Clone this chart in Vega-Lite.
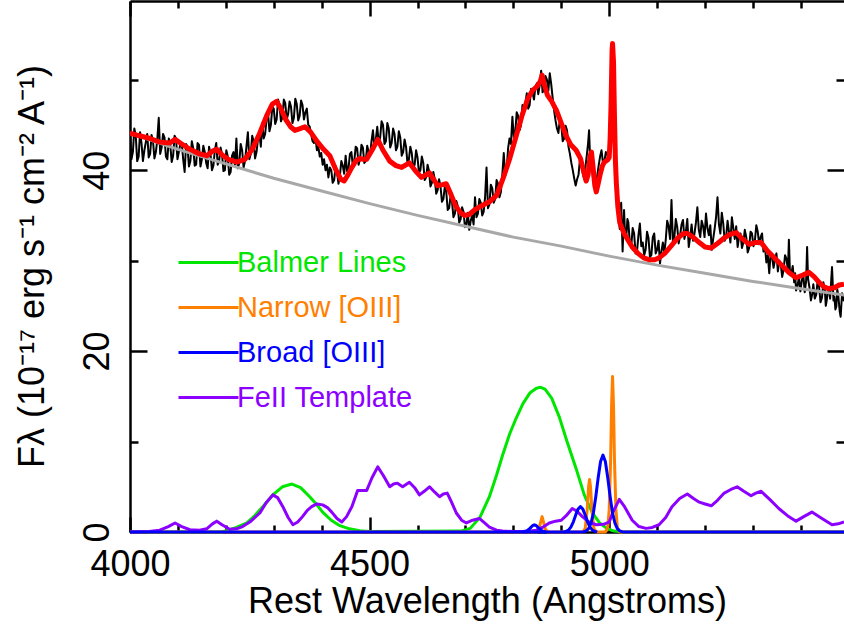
{
  "$schema": "https://vega.github.io/schema/vega-lite/v6.json",
  "width": 714,
  "height": 531,
  "autosize": {"type": "none"},
  "padding": {"left": 130, "top": 1, "right": 0, "bottom": 95},
  "config": {"view": {"stroke": null}, "font": "Liberation Sans"},
  "datasets": {
    "obs": [
      {"x":4000,"y":44.5},{"x":4003,"y":41.2},{"x":4006,"y":42.0},{"x":4009,"y":44.6},{"x":4012,"y":43.8},{"x":4015,"y":41.0},{"x":4018,"y":41.5},{"x":4021,"y":44.2},{"x":4024,"y":43.0},{"x":4027,"y":41.0},{"x":4030,"y":42.2},{"x":4033,"y":43.1},{"x":4036,"y":44.0},{"x":4039,"y":41.4},{"x":4042,"y":41.8},{"x":4045,"y":43.9},{"x":4048,"y":43.2},{"x":4051,"y":41.3},{"x":4054,"y":42.0},{"x":4057,"y":43.4},{"x":4060,"y":45.8},{"x":4063,"y":41.8},{"x":4066,"y":42.5},{"x":4069,"y":44.0},{"x":4072,"y":43.6},{"x":4075,"y":41.5},{"x":4078,"y":41.2},{"x":4081,"y":43.5},{"x":4084,"y":42.8},{"x":4087,"y":40.9},{"x":4090,"y":41.6},{"x":4093,"y":43.8},{"x":4096,"y":43.5},{"x":4099,"y":41.2},{"x":4102,"y":42.0},{"x":4105,"y":42.9},{"x":4108,"y":43.0},{"x":4111,"y":41.2},{"x":4114,"y":39.8},{"x":4117,"y":42.9},{"x":4120,"y":42.6},{"x":4123,"y":40.4},{"x":4126,"y":41.0},{"x":4129,"y":43.2},{"x":4132,"y":42.4},{"x":4135,"y":40.5},{"x":4138,"y":40.6},{"x":4141,"y":43.0},{"x":4144,"y":42.8},{"x":4147,"y":40.4},{"x":4150,"y":41.2},{"x":4153,"y":42.7},{"x":4156,"y":42.0},{"x":4159,"y":40.8},{"x":4162,"y":40.2},{"x":4165,"y":42.6},{"x":4168,"y":41.8},{"x":4171,"y":40.0},{"x":4174,"y":40.5},{"x":4177,"y":42.2},{"x":4180,"y":43.0},{"x":4183,"y":40.6},{"x":4186,"y":41.0},{"x":4189,"y":42.5},{"x":4192,"y":41.8},{"x":4195,"y":39.9},{"x":4198,"y":40.0},{"x":4201,"y":42.2},{"x":4204,"y":41.5},{"x":4207,"y":39.5},{"x":4210,"y":39.8},{"x":4213,"y":41.6},{"x":4216,"y":42.0},{"x":4219,"y":40.6},{"x":4222,"y":43.5},{"x":4225,"y":40.2},{"x":4228,"y":40.8},{"x":4231,"y":42.9},{"x":4234,"y":42.2},{"x":4237,"y":40.3},{"x":4240,"y":41.0},{"x":4243,"y":42.6},{"x":4246,"y":44.2},{"x":4249,"y":41.2},{"x":4252,"y":41.8},{"x":4255,"y":43.8},{"x":4258,"y":43.2},{"x":4261,"y":41.3},{"x":4264,"y":42.0},{"x":4267,"y":43.4},{"x":4270,"y":44.0},{"x":4273,"y":42.6},{"x":4276,"y":45.2},{"x":4279,"y":43.5},{"x":4282,"y":44.0},{"x":4285,"y":45.6},{"x":4288,"y":46.4},{"x":4291,"y":44.3},{"x":4294,"y":45.0},{"x":4297,"y":47.0},{"x":4300,"y":46.8},{"x":4303,"y":45.1},{"x":4306,"y":45.6},{"x":4309,"y":47.8},{"x":4312,"y":47.2},{"x":4315,"y":45.4},{"x":4318,"y":45.8},{"x":4321,"y":47.8},{"x":4324,"y":47.4},{"x":4327,"y":45.6},{"x":4330,"y":46.2},{"x":4333,"y":47.6},{"x":4336,"y":47.0},{"x":4339,"y":45.2},{"x":4342,"y":45.8},{"x":4345,"y":47.9},{"x":4348,"y":47.3},{"x":4351,"y":45.5},{"x":4354,"y":46.0},{"x":4357,"y":47.7},{"x":4360,"y":47.2},{"x":4363,"y":45.6},{"x":4366,"y":46.4},{"x":4369,"y":46.8},{"x":4372,"y":45.0},{"x":4375,"y":44.8},{"x":4378,"y":44.0},{"x":4381,"y":43.2},{"x":4384,"y":43.0},{"x":4387,"y":43.6},{"x":4390,"y":42.2},{"x":4393,"y":42.6},{"x":4396,"y":41.5},{"x":4399,"y":41.9},{"x":4402,"y":40.6},{"x":4405,"y":41.2},{"x":4408,"y":40.0},{"x":4411,"y":40.6},{"x":4414,"y":39.2},{"x":4417,"y":40.3},{"x":4420,"y":40.0},{"x":4423,"y":38.6},{"x":4426,"y":38.9},{"x":4429,"y":40.4},{"x":4432,"y":39.8},{"x":4435,"y":38.5},{"x":4438,"y":39.4},{"x":4441,"y":41.0},{"x":4444,"y":40.5},{"x":4447,"y":39.6},{"x":4450,"y":41.6},{"x":4453,"y":39.9},{"x":4456,"y":40.2},{"x":4459,"y":41.8},{"x":4462,"y":42.0},{"x":4465,"y":40.5},{"x":4468,"y":41.0},{"x":4471,"y":42.6},{"x":4474,"y":42.4},{"x":4477,"y":40.6},{"x":4480,"y":41.2},{"x":4483,"y":42.8},{"x":4486,"y":42.5},{"x":4489,"y":40.8},{"x":4492,"y":41.0},{"x":4495,"y":42.7},{"x":4498,"y":42.0},{"x":4501,"y":41.6},{"x":4504,"y":43.2},{"x":4507,"y":44.4},{"x":4510,"y":42.5},{"x":4513,"y":43.4},{"x":4516,"y":44.8},{"x":4519,"y":43.0},{"x":4522,"y":43.6},{"x":4525,"y":45.4},{"x":4528,"y":45.0},{"x":4531,"y":42.9},{"x":4534,"y":43.2},{"x":4537,"y":45.2},{"x":4540,"y":44.6},{"x":4543,"y":42.5},{"x":4546,"y":43.0},{"x":4549,"y":44.6},{"x":4552,"y":44.0},{"x":4555,"y":42.2},{"x":4558,"y":42.6},{"x":4561,"y":44.3},{"x":4564,"y":43.6},{"x":4567,"y":41.6},{"x":4570,"y":42.0},{"x":4573,"y":43.4},{"x":4576,"y":42.6},{"x":4579,"y":40.8},{"x":4582,"y":41.2},{"x":4585,"y":42.6},{"x":4588,"y":41.9},{"x":4591,"y":40.2},{"x":4594,"y":40.6},{"x":4597,"y":42.2},{"x":4600,"y":41.4},{"x":4603,"y":39.7},{"x":4606,"y":40.0},{"x":4609,"y":41.5},{"x":4612,"y":40.8},{"x":4615,"y":38.9},{"x":4618,"y":39.2},{"x":4621,"y":40.6},{"x":4624,"y":39.9},{"x":4627,"y":38.2},{"x":4630,"y":38.6},{"x":4633,"y":39.8},{"x":4636,"y":39.0},{"x":4639,"y":37.4},{"x":4642,"y":37.8},{"x":4645,"y":39.0},{"x":4648,"y":38.2},{"x":4651,"y":36.5},{"x":4654,"y":36.8},{"x":4657,"y":38.2},{"x":4660,"y":37.6},{"x":4663,"y":35.6},{"x":4666,"y":35.8},{"x":4669,"y":37.2},{"x":4672,"y":36.5},{"x":4675,"y":34.8},{"x":4678,"y":35.2},{"x":4681,"y":36.6},{"x":4684,"y":36.0},{"x":4687,"y":34.2},{"x":4690,"y":34.6},{"x":4693,"y":35.9},{"x":4696,"y":35.4},{"x":4699,"y":33.7},{"x":4702,"y":34.0},{"x":4705,"y":35.3},{"x":4708,"y":33.4},{"x":4711,"y":34.4},{"x":4714,"y":35.0},{"x":4717,"y":34.0},{"x":4720,"y":37.0},{"x":4723,"y":34.8},{"x":4726,"y":35.2},{"x":4729,"y":36.8},{"x":4732,"y":36.4},{"x":4735,"y":35.0},{"x":4738,"y":35.4},{"x":4741,"y":37.0},{"x":4744,"y":40.3},{"x":4747,"y":35.8},{"x":4750,"y":36.2},{"x":4753,"y":38.4},{"x":4756,"y":38.0},{"x":4759,"y":36.4},{"x":4762,"y":36.8},{"x":4765,"y":38.9},{"x":4768,"y":38.5},{"x":4771,"y":37.0},{"x":4774,"y":37.6},{"x":4777,"y":39.5},{"x":4780,"y":41.9},{"x":4783,"y":39.4},{"x":4786,"y":40.0},{"x":4789,"y":42.4},{"x":4792,"y":43.5},{"x":4795,"y":42.9},{"x":4798,"y":45.9},{"x":4801,"y":43.6},{"x":4804,"y":44.2},{"x":4807,"y":46.4},{"x":4810,"y":46.0},{"x":4813,"y":44.4},{"x":4816,"y":45.0},{"x":4819,"y":47.2},{"x":4822,"y":46.6},{"x":4825,"y":47.4},{"x":4828,"y":48.5},{"x":4831,"y":46.8},{"x":4834,"y":47.2},{"x":4837,"y":49.0},{"x":4840,"y":48.6},{"x":4843,"y":47.8},{"x":4846,"y":49.2},{"x":4849,"y":49.6},{"x":4852,"y":48.4},{"x":4855,"y":49.4},{"x":4858,"y":51.0},{"x":4861,"y":48.6},{"x":4864,"y":49.0},{"x":4867,"y":50.4},{"x":4870,"y":50.0},{"x":4873,"y":48.8},{"x":4876,"y":50.7},{"x":4879,"y":49.5},{"x":4882,"y":48.0},{"x":4885,"y":46.6},{"x":4888,"y":45.5},{"x":4891,"y":44.6},{"x":4894,"y":44.1},{"x":4897,"y":45.6},{"x":4900,"y":45.0},{"x":4903,"y":43.2},{"x":4906,"y":43.5},{"x":4909,"y":44.9},{"x":4912,"y":44.4},{"x":4915,"y":42.6},{"x":4918,"y":41.8},{"x":4921,"y":40.8},{"x":4924,"y":40.0},{"x":4927,"y":39.1},{"x":4930,"y":38.3},{"x":4933,"y":39.0},{"x":4936,"y":39.5},{"x":4939,"y":41.2},{"x":4942,"y":40.8},{"x":4945,"y":39.6},{"x":4948,"y":39.0},{"x":4951,"y":40.6},{"x":4954,"y":42.0},{"x":4956,"y":43.0},{"x":4958,"y":44.4},{"x":4960,"y":41.5},{"x":4962,"y":40.0},{"x":4964,"y":40.6},{"x":4966,"y":39.2},{"x":4969,"y":38.6},{"x":4972,"y":38.0},{"x":4975,"y":39.4},{"x":4978,"y":40.5},{"x":4981,"y":41.5},{"x":4984,"y":42.2},{"x":4987,"y":40.8},{"x":4990,"y":41.0},{"x":4993,"y":42.0},{"x":4996,"y":41.8},{"x":4998,"y":41.0},{"x":5000,"y":42.2},{"x":5003,"y":47.0},{"x":5006,"y":53.8},{"x":5009,"y":51.0},{"x":5012,"y":44.0},{"x":5015,"y":39.0},{"x":5019,"y":35.0},{"x":5022,"y":33.5},{"x":5025,"y":36.4},{"x":5028,"y":31.0},{"x":5031,"y":35.6},{"x":5033,"y":33.0},{"x":5036,"y":32.8},{"x":5038,"y":34.6},{"x":5040,"y":34.2},{"x":5043,"y":32.0},{"x":5046,"y":31.6},{"x":5049,"y":33.6},{"x":5052,"y":33.0},{"x":5055,"y":30.8},{"x":5058,"y":31.0},{"x":5061,"y":32.8},{"x":5064,"y":34.1},{"x":5067,"y":31.6},{"x":5070,"y":32.0},{"x":5073,"y":30.6},{"x":5076,"y":31.2},{"x":5079,"y":33.2},{"x":5082,"y":32.5},{"x":5085,"y":30.4},{"x":5088,"y":30.6},{"x":5091,"y":32.6},{"x":5094,"y":33.0},{"x":5097,"y":30.8},{"x":5100,"y":31.2},{"x":5103,"y":32.2},{"x":5106,"y":29.7},{"x":5109,"y":31.0},{"x":5112,"y":32.0},{"x":5115,"y":30.8},{"x":5118,"y":32.3},{"x":5121,"y":34.4},{"x":5124,"y":33.8},{"x":5127,"y":32.4},{"x":5130,"y":36.7},{"x":5133,"y":32.0},{"x":5136,"y":32.6},{"x":5139,"y":34.6},{"x":5142,"y":33.7},{"x":5145,"y":31.9},{"x":5148,"y":32.8},{"x":5151,"y":34.0},{"x":5154,"y":34.5},{"x":5157,"y":32.4},{"x":5160,"y":33.2},{"x":5163,"y":34.6},{"x":5166,"y":31.5},{"x":5169,"y":32.6},{"x":5172,"y":34.0},{"x":5175,"y":32.2},{"x":5178,"y":33.0},{"x":5181,"y":34.2},{"x":5184,"y":35.9},{"x":5187,"y":33.4},{"x":5190,"y":32.6},{"x":5193,"y":34.4},{"x":5196,"y":33.8},{"x":5199,"y":32.6},{"x":5202,"y":35.2},{"x":5205,"y":33.6},{"x":5208,"y":32.8},{"x":5211,"y":33.9},{"x":5214,"y":31.2},{"x":5217,"y":32.4},{"x":5220,"y":33.5},{"x":5223,"y":34.8},{"x":5226,"y":37.0},{"x":5229,"y":34.0},{"x":5232,"y":33.0},{"x":5235,"y":35.3},{"x":5238,"y":34.1},{"x":5241,"y":32.2},{"x":5244,"y":32.6},{"x":5247,"y":34.4},{"x":5250,"y":33.2},{"x":5253,"y":32.0},{"x":5256,"y":34.8},{"x":5259,"y":33.6},{"x":5262,"y":32.4},{"x":5265,"y":33.8},{"x":5268,"y":31.5},{"x":5271,"y":32.6},{"x":5274,"y":33.0},{"x":5277,"y":31.4},{"x":5280,"y":32.0},{"x":5283,"y":33.4},{"x":5286,"y":32.6},{"x":5289,"y":30.9},{"x":5292,"y":31.4},{"x":5295,"y":33.2},{"x":5298,"y":33.0},{"x":5301,"y":31.6},{"x":5304,"y":32.2},{"x":5307,"y":33.9},{"x":5310,"y":33.2},{"x":5313,"y":31.8},{"x":5316,"y":32.6},{"x":5319,"y":33.0},{"x":5322,"y":31.0},{"x":5325,"y":31.6},{"x":5328,"y":29.8},{"x":5331,"y":30.6},{"x":5334,"y":28.6},{"x":5337,"y":30.8},{"x":5340,"y":30.4},{"x":5343,"y":29.2},{"x":5346,"y":30.1},{"x":5349,"y":30.8},{"x":5352,"y":28.8},{"x":5355,"y":30.0},{"x":5358,"y":29.6},{"x":5361,"y":28.2},{"x":5364,"y":29.0},{"x":5367,"y":30.6},{"x":5370,"y":30.2},{"x":5373,"y":28.9},{"x":5375,"y":32.3},{"x":5377,"y":29.0},{"x":5380,"y":28.5},{"x":5383,"y":29.4},{"x":5386,"y":27.6},{"x":5388,"y":28.6},{"x":5390,"y":26.7},{"x":5393,"y":27.2},{"x":5396,"y":28.2},{"x":5399,"y":26.6},{"x":5402,"y":27.8},{"x":5405,"y":28.5},{"x":5408,"y":26.5},{"x":5411,"y":27.8},{"x":5413,"y":31.5},{"x":5415,"y":28.0},{"x":5418,"y":27.0},{"x":5421,"y":25.6},{"x":5424,"y":26.4},{"x":5426,"y":27.4},{"x":5429,"y":25.8},{"x":5432,"y":26.2},{"x":5435,"y":27.8},{"x":5438,"y":27.1},{"x":5441,"y":25.4},{"x":5444,"y":25.9},{"x":5447,"y":27.6},{"x":5450,"y":26.8},{"x":5452,"y":25.0},{"x":5454,"y":25.6},{"x":5456,"y":26.6},{"x":5458,"y":27.0},{"x":5461,"y":25.8},{"x":5465,"y":29.3},{"x":5468,"y":25.6},{"x":5470,"y":26.0},{"x":5472,"y":24.6},{"x":5474,"y":24.9},{"x":5476,"y":26.8},{"x":5478,"y":26.2},{"x":5481,"y":24.4},{"x":5483,"y":23.8},{"x":5486,"y":26.4},{"x":5490,"y":25.5}
    ],
    "cont": [
      {"x":4000,"y":44.1},{"x":4100,"y":42.3},{"x":4200,"y":40.7},{"x":4300,"y":39.1},{"x":4400,"y":37.7},{"x":4500,"y":36.3},{"x":4600,"y":35.0},{"x":4700,"y":33.8},{"x":4800,"y":32.6},{"x":4900,"y":31.6},{"x":5000,"y":30.5},{"x":5100,"y":29.5},{"x":5200,"y":28.6},{"x":5300,"y":27.7},{"x":5400,"y":26.9},{"x":5490,"y":26.2}
    ],
    "model": [
      {"x":4000,"y":44.1},{"x":4020,"y":43.8},{"x":4042,"y":43.5},{"x":4062,"y":43.1},{"x":4083,"y":43.0},{"x":4094,"y":43.4},{"x":4105,"y":43.0},{"x":4125,"y":42.3},{"x":4145,"y":41.8},{"x":4160,"y":41.6},{"x":4172,"y":42.1},{"x":4181,"y":42.3},{"x":4192,"y":41.7},{"x":4205,"y":41.2},{"x":4223,"y":40.9},{"x":4240,"y":41.2},{"x":4255,"y":42.3},{"x":4270,"y":44.0},{"x":4285,"y":46.0},{"x":4297,"y":47.3},{"x":4306,"y":47.6},{"x":4315,"y":46.8},{"x":4325,"y":45.6},{"x":4335,"y":44.8},{"x":4344,"y":44.4},{"x":4355,"y":44.6},{"x":4365,"y":44.8},{"x":4377,"y":44.2},{"x":4390,"y":43.2},{"x":4404,"y":42.3},{"x":4417,"y":41.6},{"x":4430,"y":40.0},{"x":4440,"y":39.0},{"x":4447,"y":38.8},{"x":4455,"y":39.5},{"x":4463,"y":40.3},{"x":4471,"y":41.0},{"x":4479,"y":41.3},{"x":4487,"y":41.2},{"x":4494,"y":41.2},{"x":4505,"y":42.2},{"x":4517,"y":43.4},{"x":4528,"y":42.2},{"x":4542,"y":41.0},{"x":4555,"y":40.5},{"x":4567,"y":40.3},{"x":4583,"y":40.8},{"x":4596,"y":39.9},{"x":4608,"y":39.2},{"x":4625,"y":39.7},{"x":4636,"y":38.8},{"x":4642,"y":38.3},{"x":4652,"y":38.4},{"x":4660,"y":38.5},{"x":4670,"y":37.3},{"x":4680,"y":36.0},{"x":4690,"y":35.3},{"x":4698,"y":35.0},{"x":4708,"y":35.1},{"x":4719,"y":35.6},{"x":4735,"y":36.1},{"x":4750,"y":36.5},{"x":4765,"y":37.2},{"x":4778,"y":39.0},{"x":4792,"y":41.2},{"x":4806,"y":43.8},{"x":4819,"y":46.2},{"x":4830,"y":47.9},{"x":4840,"y":48.8},{"x":4850,"y":49.3},{"x":4856,"y":49.8},{"x":4860,"y":50.5},{"x":4864,"y":49.6},{"x":4871,"y":48.3},{"x":4880,"y":47.6},{"x":4890,"y":46.6},{"x":4900,"y":45.2},{"x":4910,"y":43.8},{"x":4920,"y":42.8},{"x":4931,"y":42.2},{"x":4940,"y":41.3},{"x":4946,"y":40.0},{"x":4952,"y":38.8},{"x":4956,"y":39.5},{"x":4960,"y":41.5},{"x":4963,"y":42.0},{"x":4966,"y":40.5},{"x":4970,"y":38.3},{"x":4973,"y":37.6},{"x":4977,"y":38.5},{"x":4981,"y":39.5},{"x":4986,"y":40.5},{"x":4990,"y":40.9},{"x":4996,"y":41.1},{"x":5000,"y":41.4},{"x":5002,"y":43.5},{"x":5004,"y":47.5},{"x":5006,"y":53.2},{"x":5007,"y":54.0},{"x":5009,"y":52.0},{"x":5011,"y":46.0},{"x":5013,"y":41.0},{"x":5015,"y":38.5},{"x":5018,"y":36.0},{"x":5022,"y":34.2},{"x":5031,"y":33.0},{"x":5040,"y":32.2},{"x":5048,"y":31.5},{"x":5060,"y":30.8},{"x":5072,"y":30.3},{"x":5083,"y":30.1},{"x":5095,"y":30.1},{"x":5104,"y":30.3},{"x":5116,"y":30.8},{"x":5129,"y":31.6},{"x":5143,"y":32.5},{"x":5155,"y":33.0},{"x":5163,"y":33.0},{"x":5175,"y":32.6},{"x":5188,"y":32.0},{"x":5200,"y":31.5},{"x":5213,"y":31.4},{"x":5226,"y":31.9},{"x":5240,"y":32.5},{"x":5252,"y":32.9},{"x":5265,"y":33.1},{"x":5278,"y":32.4},{"x":5292,"y":31.8},{"x":5304,"y":32.0},{"x":5317,"y":32.0},{"x":5330,"y":31.1},{"x":5345,"y":30.3},{"x":5360,"y":29.5},{"x":5375,"y":28.7},{"x":5390,"y":28.1},{"x":5404,"y":28.4},{"x":5417,"y":28.7},{"x":5428,"y":28.2},{"x":5438,"y":27.6},{"x":5448,"y":27.1},{"x":5458,"y":26.9},{"x":5470,"y":27.0},{"x":5480,"y":27.3},{"x":5490,"y":27.4}
    ],
    "comp": [
      {"s":"Balmer Lines","p":"g","x":4000,"y":0},{"s":"Balmer Lines","p":"g","x":4190,"y":0},{"s":"Balmer Lines","p":"g","x":4202,"y":0.15},{"s":"Balmer Lines","p":"g","x":4222,"y":0.5},{"s":"Balmer Lines","p":"g","x":4244,"y":1.0},{"s":"Balmer Lines","p":"g","x":4260,"y":1.8},{"s":"Balmer Lines","p":"g","x":4277,"y":2.8},{"s":"Balmer Lines","p":"g","x":4298,"y":4.1},{"s":"Balmer Lines","p":"g","x":4318,"y":5.0},{"s":"Balmer Lines","p":"g","x":4338,"y":5.3},{"s":"Balmer Lines","p":"g","x":4356,"y":4.9},{"s":"Balmer Lines","p":"g","x":4375,"y":3.9},{"s":"Balmer Lines","p":"g","x":4390,"y":3.0},{"s":"Balmer Lines","p":"g","x":4402,"y":2.2},{"s":"Balmer Lines","p":"g","x":4420,"y":1.3},{"s":"Balmer Lines","p":"g","x":4438,"y":0.7},{"s":"Balmer Lines","p":"g","x":4458,"y":0.35},{"s":"Balmer Lines","p":"g","x":4479,"y":0.15},{"s":"Balmer Lines","p":"g","x":4500,"y":0.05},{"s":"Balmer Lines","p":"g","x":4690,"y":0.1},{"s":"Balmer Lines","p":"g","x":4710,"y":0.4},{"s":"Balmer Lines","p":"g","x":4730,"y":1.6},{"s":"Balmer Lines","p":"g","x":4750,"y":3.9},{"s":"Balmer Lines","p":"g","x":4765,"y":6.3},{"s":"Balmer Lines","p":"g","x":4777,"y":8.4},{"s":"Balmer Lines","p":"g","x":4792,"y":10.8},{"s":"Balmer Lines","p":"g","x":4806,"y":12.6},{"s":"Balmer Lines","p":"g","x":4820,"y":14.2},{"s":"Balmer Lines","p":"g","x":4835,"y":15.4},{"s":"Balmer Lines","p":"g","x":4848,"y":15.9},{"s":"Balmer Lines","p":"g","x":4857,"y":16.0},{"s":"Balmer Lines","p":"g","x":4866,"y":15.8},{"s":"Balmer Lines","p":"g","x":4880,"y":14.8},{"s":"Balmer Lines","p":"g","x":4896,"y":12.7},{"s":"Balmer Lines","p":"g","x":4912,"y":10.0},{"s":"Balmer Lines","p":"g","x":4931,"y":7.0},{"s":"Balmer Lines","p":"g","x":4948,"y":4.1},{"s":"Balmer Lines","p":"g","x":4965,"y":2.1},{"s":"Balmer Lines","p":"g","x":4980,"y":1.0},{"s":"Balmer Lines","p":"g","x":4995,"y":0.4},{"s":"Balmer Lines","p":"g","x":5010,"y":0.1},{"s":"Balmer Lines","p":"g","x":5030,"y":0},{"s":"Balmer Lines","p":"g","x":5490,"y":0},
      {"s":"Narrow [OIII]","p":"o","x":4000,"y":0},{"s":"Narrow [OIII]","p":"o","x":4848,"y":0},{"s":"Narrow [OIII]","p":"o","x":4853,"y":0.3},{"s":"Narrow [OIII]","p":"o","x":4857,"y":1.1},{"s":"Narrow [OIII]","p":"o","x":4860,"y":1.7},{"s":"Narrow [OIII]","p":"o","x":4863,"y":1.1},{"s":"Narrow [OIII]","p":"o","x":4867,"y":0.3},{"s":"Narrow [OIII]","p":"o","x":4872,"y":0},{"s":"Narrow [OIII]","p":"o","x":4945,"y":0},{"s":"Narrow [OIII]","p":"o","x":4950,"y":0.4},{"s":"Narrow [OIII]","p":"o","x":4954,"y":2.4},{"s":"Narrow [OIII]","p":"o","x":4957,"y":5.0},{"s":"Narrow [OIII]","p":"o","x":4959,"y":5.8},{"s":"Narrow [OIII]","p":"o","x":4961,"y":5.0},{"s":"Narrow [OIII]","p":"o","x":4964,"y":2.4},{"s":"Narrow [OIII]","p":"o","x":4968,"y":0.4},{"s":"Narrow [OIII]","p":"o","x":4973,"y":0},{"s":"Narrow [OIII]","p":"o","x":4992,"y":0},{"s":"Narrow [OIII]","p":"o","x":4997,"y":0.5},{"s":"Narrow [OIII]","p":"o","x":5000,"y":2.5},{"s":"Narrow [OIII]","p":"o","x":5003,"y":8.0},{"s":"Narrow [OIII]","p":"o","x":5005,"y":14.0},{"s":"Narrow [OIII]","p":"o","x":5007,"y":17.2},{"s":"Narrow [OIII]","p":"o","x":5009,"y":14.0},{"s":"Narrow [OIII]","p":"o","x":5011,"y":8.0},{"s":"Narrow [OIII]","p":"o","x":5014,"y":2.5},{"s":"Narrow [OIII]","p":"o","x":5017,"y":0.5},{"s":"Narrow [OIII]","p":"o","x":5022,"y":0},{"s":"Narrow [OIII]","p":"o","x":5490,"y":0},
      {"s":"FeII Template","p":"f","x":4000,"y":0.0},{"s":"FeII Template","p":"f","x":4040,"y":0.05},{"s":"FeII Template","p":"f","x":4062,"y":0.2},{"s":"FeII Template","p":"f","x":4080,"y":0.6},{"s":"FeII Template","p":"f","x":4094,"y":1.0},{"s":"FeII Template","p":"f","x":4108,"y":0.6},{"s":"FeII Template","p":"f","x":4125,"y":0.25},{"s":"FeII Template","p":"f","x":4145,"y":0.2},{"s":"FeII Template","p":"f","x":4160,"y":0.35},{"s":"FeII Template","p":"f","x":4172,"y":0.9},{"s":"FeII Template","p":"f","x":4181,"y":1.2},{"s":"FeII Template","p":"f","x":4192,"y":0.8},{"s":"FeII Template","p":"f","x":4208,"y":0.3},{"s":"FeII Template","p":"f","x":4222,"y":0.35},{"s":"FeII Template","p":"f","x":4235,"y":0.6},{"s":"FeII Template","p":"f","x":4250,"y":1.1},{"s":"FeII Template","p":"f","x":4271,"y":2.1},{"s":"FeII Template","p":"f","x":4285,"y":3.3},{"s":"FeII Template","p":"f","x":4298,"y":4.1},{"s":"FeII Template","p":"f","x":4308,"y":3.8},{"s":"FeII Template","p":"f","x":4319,"y":2.8},{"s":"FeII Template","p":"f","x":4330,"y":1.6},{"s":"FeII Template","p":"f","x":4340,"y":0.8},{"s":"FeII Template","p":"f","x":4350,"y":1.1},{"s":"FeII Template","p":"f","x":4360,"y":1.7},{"s":"FeII Template","p":"f","x":4370,"y":2.4},{"s":"FeII Template","p":"f","x":4379,"y":2.8},{"s":"FeII Template","p":"f","x":4390,"y":3.1},{"s":"FeII Template","p":"f","x":4402,"y":3.0},{"s":"FeII Template","p":"f","x":4412,"y":2.7},{"s":"FeII Template","p":"f","x":4421,"y":2.2},{"s":"FeII Template","p":"f","x":4432,"y":1.5},{"s":"FeII Template","p":"f","x":4442,"y":1.1},{"s":"FeII Template","p":"f","x":4452,"y":1.7},{"s":"FeII Template","p":"f","x":4463,"y":2.8},{"s":"FeII Template","p":"f","x":4475,"y":4.6},{"s":"FeII Template","p":"f","x":4485,"y":4.6},{"s":"FeII Template","p":"f","x":4494,"y":4.6},{"s":"FeII Template","p":"f","x":4505,"y":6.0},{"s":"FeII Template","p":"f","x":4517,"y":7.2},{"s":"FeII Template","p":"f","x":4528,"y":6.3},{"s":"FeII Template","p":"f","x":4542,"y":5.0},{"s":"FeII Template","p":"f","x":4550,"y":5.3},{"s":"FeII Template","p":"f","x":4558,"y":5.4},{"s":"FeII Template","p":"f","x":4569,"y":5.0},{"s":"FeII Template","p":"f","x":4583,"y":5.5},{"s":"FeII Template","p":"f","x":4594,"y":4.9},{"s":"FeII Template","p":"f","x":4604,"y":4.1},{"s":"FeII Template","p":"f","x":4614,"y":4.5},{"s":"FeII Template","p":"f","x":4625,"y":5.0},{"s":"FeII Template","p":"f","x":4636,"y":4.4},{"s":"FeII Template","p":"f","x":4646,"y":3.9},{"s":"FeII Template","p":"f","x":4654,"y":4.2},{"s":"FeII Template","p":"f","x":4662,"y":4.3},{"s":"FeII Template","p":"f","x":4671,"y":3.3},{"s":"FeII Template","p":"f","x":4681,"y":2.1},{"s":"FeII Template","p":"f","x":4692,"y":1.3},{"s":"FeII Template","p":"f","x":4702,"y":1.0},{"s":"FeII Template","p":"f","x":4715,"y":1.3},{"s":"FeII Template","p":"f","x":4729,"y":1.5},{"s":"FeII Template","p":"f","x":4740,"y":1.0},{"s":"FeII Template","p":"f","x":4750,"y":0.55},{"s":"FeII Template","p":"f","x":4765,"y":0.2},{"s":"FeII Template","p":"f","x":4777,"y":0.1},{"s":"FeII Template","p":"f","x":4800,"y":0.05},{"s":"FeII Template","p":"f","x":4819,"y":0.05},{"s":"FeII Template","p":"f","x":4835,"y":0.1},{"s":"FeII Template","p":"f","x":4848,"y":0.2},{"s":"FeII Template","p":"f","x":4862,"y":0.55},{"s":"FeII Template","p":"f","x":4875,"y":1.0},{"s":"FeII Template","p":"f","x":4888,"y":1.2},{"s":"FeII Template","p":"f","x":4900,"y":1.3},{"s":"FeII Template","p":"f","x":4912,"y":1.9},{"s":"FeII Template","p":"f","x":4923,"y":2.6},{"s":"FeII Template","p":"f","x":4933,"y":2.3},{"s":"FeII Template","p":"f","x":4944,"y":1.7},{"s":"FeII Template","p":"f","x":4958,"y":1.1},{"s":"FeII Template","p":"f","x":4973,"y":0.8},{"s":"FeII Template","p":"f","x":4988,"y":0.85},{"s":"FeII Template","p":"f","x":5000,"y":1.1},{"s":"FeII Template","p":"f","x":5008,"y":2.2},{"s":"FeII Template","p":"f","x":5021,"y":3.6},{"s":"FeII Template","p":"f","x":5032,"y":2.8},{"s":"FeII Template","p":"f","x":5048,"y":1.3},{"s":"FeII Template","p":"f","x":5062,"y":0.6},{"s":"FeII Template","p":"f","x":5077,"y":0.4},{"s":"FeII Template","p":"f","x":5090,"y":0.5},{"s":"FeII Template","p":"f","x":5104,"y":0.8},{"s":"FeII Template","p":"f","x":5118,"y":1.6},{"s":"FeII Template","p":"f","x":5131,"y":2.8},{"s":"FeII Template","p":"f","x":5147,"y":3.7},{"s":"FeII Template","p":"f","x":5163,"y":4.2},{"s":"FeII Template","p":"f","x":5176,"y":3.7},{"s":"FeII Template","p":"f","x":5188,"y":3.3},{"s":"FeII Template","p":"f","x":5200,"y":3.1},{"s":"FeII Template","p":"f","x":5213,"y":2.9},{"s":"FeII Template","p":"f","x":5226,"y":3.5},{"s":"FeII Template","p":"f","x":5240,"y":4.3},{"s":"FeII Template","p":"f","x":5254,"y":4.7},{"s":"FeII Template","p":"f","x":5267,"y":5.0},{"s":"FeII Template","p":"f","x":5281,"y":4.5},{"s":"FeII Template","p":"f","x":5296,"y":4.0},{"s":"FeII Template","p":"f","x":5306,"y":4.3},{"s":"FeII Template","p":"f","x":5317,"y":4.5},{"s":"FeII Template","p":"f","x":5335,"y":3.6},{"s":"FeII Template","p":"f","x":5354,"y":2.6},{"s":"FeII Template","p":"f","x":5372,"y":1.8},{"s":"FeII Template","p":"f","x":5390,"y":1.2},{"s":"FeII Template","p":"f","x":5406,"y":1.7},{"s":"FeII Template","p":"f","x":5423,"y":2.2},{"s":"FeII Template","p":"f","x":5444,"y":1.5},{"s":"FeII Template","p":"f","x":5465,"y":0.8},{"s":"FeII Template","p":"f","x":5478,"y":0.9},{"s":"FeII Template","p":"f","x":5490,"y":1.1},
      {"s":"Broad [OIII]","p":"b0","x":4820,"y":0},{"s":"Broad [OIII]","p":"b0","x":4828,"y":0.11},{"s":"Broad [OIII]","p":"b0","x":4834,"y":0.37},{"s":"Broad [OIII]","p":"b0","x":4840,"y":0.7},{"s":"Broad [OIII]","p":"b0","x":4844,"y":0.8},{"s":"Broad [OIII]","p":"b0","x":4848,"y":0.7},{"s":"Broad [OIII]","p":"b0","x":4854,"y":0.37},{"s":"Broad [OIII]","p":"b0","x":4860,"y":0.11},{"s":"Broad [OIII]","p":"b0","x":4868,"y":0},
      {"s":"Broad [OIII]","p":"b1","x":4905,"y":0},{"s":"Broad [OIII]","p":"b1","x":4910,"y":0.07},{"s":"Broad [OIII]","p":"b1","x":4915,"y":0.21},{"s":"Broad [OIII]","p":"b1","x":4920,"y":0.54},{"s":"Broad [OIII]","p":"b1","x":4925,"y":1.1},{"s":"Broad [OIII]","p":"b1","x":4930,"y":1.86},{"s":"Broad [OIII]","p":"b1","x":4935,"y":2.53},{"s":"Broad [OIII]","p":"b1","x":4940,"y":2.8},{"s":"Broad [OIII]","p":"b1","x":4945,"y":2.53},{"s":"Broad [OIII]","p":"b1","x":4950,"y":1.86},{"s":"Broad [OIII]","p":"b1","x":4955,"y":1.1},{"s":"Broad [OIII]","p":"b1","x":4960,"y":0.54},{"s":"Broad [OIII]","p":"b1","x":4965,"y":0.21},{"s":"Broad [OIII]","p":"b1","x":4970,"y":0.07},{"s":"Broad [OIII]","p":"b1","x":4975,"y":0},
      {"s":"Broad [OIII]","p":"b2","x":4000,"y":0},{"s":"Broad [OIII]","p":"b2","x":4940,"y":0},{"s":"Broad [OIII]","p":"b2","x":4947,"y":0.03},{"s":"Broad [OIII]","p":"b2","x":4952,"y":0.12},{"s":"Broad [OIII]","p":"b2","x":4957,"y":0.37},{"s":"Broad [OIII]","p":"b2","x":4962,"y":0.97},{"s":"Broad [OIII]","p":"b2","x":4967,"y":2.1},{"s":"Broad [OIII]","p":"b2","x":4972,"y":3.9},{"s":"Broad [OIII]","p":"b2","x":4977,"y":6.0},{"s":"Broad [OIII]","p":"b2","x":4982,"y":7.8},{"s":"Broad [OIII]","p":"b2","x":4987,"y":8.5},{"s":"Broad [OIII]","p":"b2","x":4992,"y":7.8},{"s":"Broad [OIII]","p":"b2","x":4997,"y":6.0},{"s":"Broad [OIII]","p":"b2","x":5002,"y":3.9},{"s":"Broad [OIII]","p":"b2","x":5007,"y":2.1},{"s":"Broad [OIII]","p":"b2","x":5012,"y":0.97},{"s":"Broad [OIII]","p":"b2","x":5017,"y":0.37},{"s":"Broad [OIII]","p":"b2","x":5022,"y":0.12},{"s":"Broad [OIII]","p":"b2","x":5027,"y":0.03},{"s":"Broad [OIII]","p":"b2","x":5034,"y":0},{"s":"Broad [OIII]","p":"b2","x":5490,"y":0}
    ]
  },
  "resolve": {"axis": {"x": "independent", "y": "independent"}},
  "layer": [
    {
      "data": {"name": "obs"},
      "mark": {"type": "line", "color": "black", "strokeWidth": 2, "strokeJoin": "round", "clip": true},
      "encoding": {
        "x": {"field": "x", "type": "quantitative", "scale": {"domain": [4000, 5490], "nice": false, "zero": false},
          "axis": {"orient": "bottom", "values": [4000,4100,4200,4300,4400,4500,4600,4700,4800,4900,5000,5100,5200,5300,5400],
            "format": "d", "labelExpr": "datum.value % 500 === 0 ? datum.label : ''",
            "labelFontSize": 36, "labelColor": "black", "labelPadding": 30, "labelFlush": false, "labelOverlap": false,
            "tickSize": {"condition": {"test": "datum.value % 500 === 0", "value": -15}, "value": -7},
            "tickWidth": 2.5, "tickColor": "black", "domainColor": "black", "domainWidth": 2.5, "grid": false,
            "title": "Rest Wavelength (Angstroms)", "titleFontSize": 36, "titleFontWeight": "normal", "titleColor": "black",
            "titleY": 80, "titleBaseline": "alphabetic"}},
        "y": {"field": "y", "type": "quantitative", "scale": {"domain": [0, 58.7], "nice": false},
          "axis": {"orient": "left", "values": [0,10,20,30,40,50],
            "labelExpr": "datum.value % 20 === 0 ? datum.label : ''",
            "labelFontSize": 36, "labelColor": "black", "labelAngle": 270, "labelAlign": "center", "labelBaseline": "alphabetic", "labelPadding": 39, "labelFlush": false, "labelOverlap": false,
            "tickSize": {"condition": {"test": "datum.value % 20 === 0", "value": -17}, "value": -8},
            "tickWidth": 2.5, "tickColor": "black", "domainColor": "black", "domainWidth": 2.5, "grid": false,
            "title": "Fλ (10⁻¹⁷ erg s⁻¹ cm⁻² A⁻¹)", "titleFontSize": 36, "titleFontWeight": "normal", "titleColor": "black",
            "titleAngle": 270, "titleX": -98, "titleY": 265, "titleAlign": "center", "titleBaseline": "middle"}}
      }
    },
    {
      "data": {"name": "cont"},
      "mark": {"type": "line", "color": "#a8a8a8", "strokeWidth": 3, "clip": true},
      "encoding": {
        "x": {"field": "x", "type": "quantitative", "scale": {"domain": [4000, 5490], "nice": false, "zero": false},
          "axis": {"orient": "top", "values": [4000,4100,4200,4300,4400,4500,4600,4700,4800,4900,5000,5100,5200,5300,5400],
            "labels": false, "title": null,
            "tickSize": {"condition": {"test": "datum.value % 500 === 0", "value": -15}, "value": -7},
            "tickWidth": 2.5, "tickColor": "black", "domainColor": "black", "domainWidth": 2.5, "grid": false}},
        "y": {"field": "y", "type": "quantitative", "scale": {"domain": [0, 58.7], "nice": false},
          "axis": {"orient": "right", "values": [0,10,20,30,40,50], "labels": false, "title": null, "domain": false,
            "tickSize": {"condition": {"test": "datum.value % 20 === 0", "value": -17}, "value": -8},
            "tickWidth": 2.5, "tickColor": "black", "grid": false}}
      }
    },
    {
      "data": {"name": "model"},
      "mark": {"type": "line", "color": "#ff0000", "strokeWidth": 5, "strokeJoin": "round", "clip": true},
      "encoding": {
        "x": {"field": "x", "type": "quantitative", "axis": null},
        "y": {"field": "y", "type": "quantitative", "axis": null}
      }
    },
    {
      "data": {"name": "comp"},
      "transform": [{"filter": "datum.s === 'Balmer Lines'"}],
      "mark": {"type": "line", "strokeWidth": 3, "strokeJoin": "round"},
      "encoding": {
        "x": {"field": "x", "type": "quantitative", "axis": null},
        "y": {"field": "y", "type": "quantitative", "axis": null},
        "detail": {"field": "p"},
        "color": {"field": "s", "type": "nominal",
          "scale": {"domain": ["Balmer Lines", "Narrow [OIII]", "Broad [OIII]", "FeII Template"], "range": ["#00e600", "#ff8000", "#0000ff", "#8c00ff"]},
          "legend": {"orient": "none", "legendX": 47, "legendY": 239, "title": null, "symbolType": "stroke", "symbolSize": 3600, "symbolStrokeWidth": 3,
            "labelFontSize": 29, "labelOffset": -3, "labelLimit": 0, "clipHeight": 45, "rowPadding": 0, "padding": 0,
            "encode": {"labels": {"update": {"fill": {"scale": "color", "field": "value"}}}}}}
      }
    },
    {
      "data": {"name": "comp"},
      "transform": [{"filter": "datum.s === 'Narrow [OIII]'"}],
      "mark": {"type": "line", "strokeWidth": 3, "strokeJoin": "round"},
      "encoding": {
        "x": {"field": "x", "type": "quantitative", "axis": null},
        "y": {"field": "y", "type": "quantitative", "axis": null},
        "detail": {"field": "p"},
        "color": {"field": "s", "type": "nominal"}
      }
    },
    {
      "data": {"name": "comp"},
      "transform": [{"filter": "datum.s === 'FeII Template'"}],
      "mark": {"type": "line", "strokeWidth": 3, "strokeJoin": "round"},
      "encoding": {
        "x": {"field": "x", "type": "quantitative", "axis": null},
        "y": {"field": "y", "type": "quantitative", "axis": null},
        "detail": {"field": "p"},
        "color": {"field": "s", "type": "nominal"}
      }
    },
    {
      "data": {"name": "comp"},
      "transform": [{"filter": "datum.s === 'Broad [OIII]'"}],
      "mark": {"type": "line", "strokeWidth": 3, "strokeJoin": "round"},
      "encoding": {
        "x": {"field": "x", "type": "quantitative", "axis": null},
        "y": {"field": "y", "type": "quantitative", "axis": null},
        "detail": {"field": "p"},
        "color": {"field": "s", "type": "nominal"}
      }
    }
  ]
}
